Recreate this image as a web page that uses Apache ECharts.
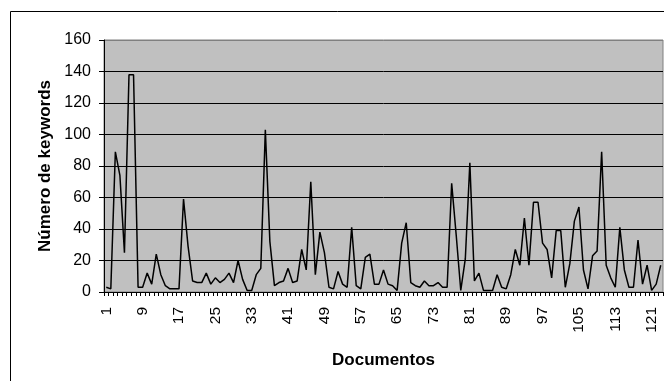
<!DOCTYPE html>
<html>
<head>
<meta charset="utf-8">
<script src="https://cdn.jsdelivr.net/npm/echarts@6/dist/echarts.min.js"></script>
<style>
  html, body { margin: 0; padding: 0; background: #fff; }
  #chart { width: 664px; height: 381px; }
</style>
</head>
<body>
<div id="chart"></div>
<script>
// Keyword count per document (documents numbered 1..123)
const documentos = Array.from({ length: 123 }, (_, i) => String(i + 1));
const keywords = [
  3, 2, 89, 74, 25, 138, 138, 3, 3, 12,
  5, 24, 11, 4, 2, 2, 2, 59, 29, 7,
  6, 6, 12, 5, 9, 6, 8, 12, 6, 20,
  8, 1, 1, 11, 15, 103, 32, 4, 6, 7,
  15, 6, 7, 27, 14, 70, 11, 38, 25, 3,
  2, 13, 5, 3, 41, 4, 2, 22, 24, 5,
  5, 14, 5, 4, 1, 31, 44, 6, 4, 3,
  7, 4, 4, 6, 3, 3, 69, 36, 1, 21,
  82, 7, 12, 1, 1, 1, 11, 3, 2, 11,
  27, 17, 47, 17, 57, 57, 31, 27, 9, 39,
  39, 3, 18, 45, 54, 14, 2, 23, 26, 89,
  17, 9, 3, 41, 14, 3, 3, 33, 5, 17,
  1, 5, 17
];
const yTicks = { min: 0, max: 160, step: 20 };

const FONT = "'Liberation Sans', Arial, sans-serif";
const chart = echarts.init(document.getElementById('chart'), null, { renderer: 'canvas' });

// top grid line is drawn in the plot-frame grey, the rest black
const splitColors = [];
for (let v = yTicks.min; v <= yTicks.max; v += yTicks.step) {
  splitColors.push(v === yTicks.max ? '#808080' : '#000000');
}

chart.setOption({
  animation: false,
  backgroundColor: '#ffffff',
  textStyle: { fontFamily: FONT },
  graphic: [{
    type: 'rect',
    shape: { x: 10.5, y: 11.5, width: 700, height: 400 },
    style: { fill: 'none', stroke: '#000', lineWidth: 1 },
    silent: true,
    z: -1
  }],
  grid: {
    left: 104, top: 40, right: 1, bottom: 89,
    show: true,
    backgroundColor: '#C0C0C0',
    borderColor: '#808080',
    borderWidth: 1
  },
  xAxis: {
    type: 'category',
    data: documentos,
    boundaryGap: true,
    name: 'Documentos',
    nameLocation: 'middle',
    nameGap: 60,
    nameTextStyle: { fontFamily: FONT, fontSize: 17, fontWeight: 'bold', color: '#000' },
    axisLine: { show: true, lineStyle: { color: '#000', width: 1 } },
    axisTick: { show: true, interval: 0, length: 4, lineStyle: { color: '#000' } },
    axisLabel: {
      interval: 7, rotate: 90, margin: 15,
      fontFamily: FONT, fontSize: 15.5, color: '#000'
    },
    splitLine: { show: false }
  },
  yAxis: {
    type: 'value',
    min: yTicks.min, max: yTicks.max, interval: yTicks.step,
    name: 'Número de keywords',
    nameLocation: 'middle',
    nameGap: 50,
    nameTextStyle: { fontFamily: FONT, fontSize: 17, fontWeight: 'bold', color: '#000' },
    axisLine: { show: true, lineStyle: { color: '#000', width: 1 } },
    axisTick: { show: true, length: 5, lineStyle: { color: '#000' } },
    axisLabel: { margin: 13, fontFamily: FONT, fontSize: 16, color: '#000' },
    splitLine: { show: true, lineStyle: { color: splitColors, width: 1 } }
  },
  series: [{
    type: 'line',
    data: keywords,
    symbol: 'none',
    lineStyle: { color: '#000', width: 1.5 },
    z: 3
  }]
});
</script>
</body>
</html>
